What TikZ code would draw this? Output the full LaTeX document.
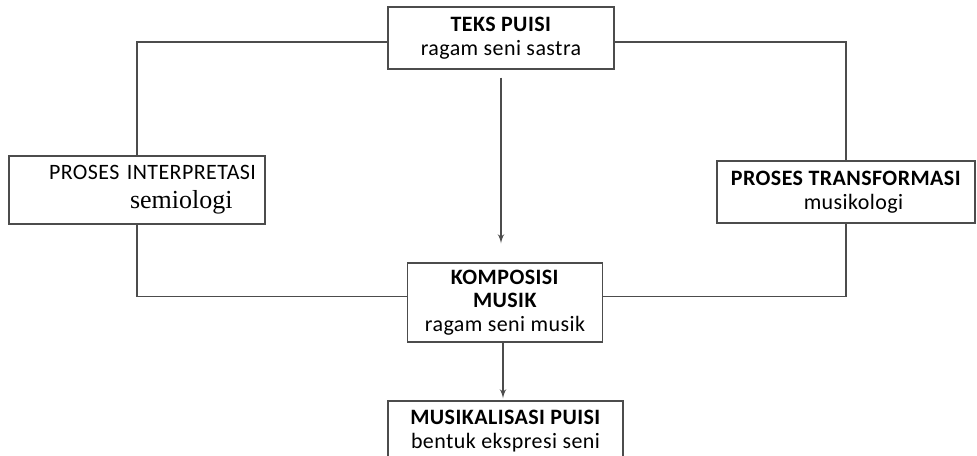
\documentclass[tikz,border=0pt]{standalone}
\usepackage{fontspec}
\setmainfont{Carlito}[LetterSpace=2]
\newfontfamily\serifface{Liberation Serif}
\usetikzlibrary{arrows, positioning}

\begin{document}
\begin{tikzpicture}[
    x=0.02cm, y=-0.02cm,
    block/.style={rectangle, draw=black!70, line width=0.8pt, align=center, inner sep=0pt, font=\fontsize{12.5}{13.5}\selectfont},
    line/.style={draw=black!70, line width=0.8pt},
    arrowline/.style={line, -latex'}
]
    \useasboundingbox (0,0) rectangle (977,456);

    % Nodes
    \node (puisi) [block, minimum width=4.52cm, minimum height=1.24cm] at (501,38) {\textbf{TEKS PUISI}\\ragam seni sastra};
    \node (interp) [block, align=left, text width=5.12cm, minimum height=1.36cm] at (137,190) {\hspace*{0.8cm}PROSES INTERPRETASI\\[3pt]\hspace*{2.42cm}{\serifface\fontsize{14.8}{14}\selectfont semiologi}};
    \node (transf) [block, minimum width=5.16cm, minimum height=1.24cm] at (846,192) {\textbf{PROSES TRANSFORMASI}\\\hspace*{0.3cm}musikologi};
    \node (kompos) [block, minimum width=3.9cm, minimum height=1.58cm] at (505,302.5) {\textbf{KOMPOSISI}\\\textbf{MUSIK}\\ragam seni musik};
    \node (musikal) [block, minimum width=4.7cm, minimum height=1.2cm] at (505.5,431) {\textbf{MUSIKALISASI PUISI}\\bentuk ekspresi seni};

    % Connections
    \draw [line] ([yshift=-0.08cm]puisi.west) -| (interp.north);
    \draw [line] ([yshift=-0.08cm]puisi.east) -| (transf.north);
    \draw [line] (interp.south) |- ([yshift=0.12cm]kompos.west);
    \draw [line] (transf.south) |- ([yshift=0.12cm]kompos.east);
    \draw [arrowline, shorten <=0.16cm, shorten >=0.38cm] (puisi.south) -- (puisi.south |- kompos.north);
    \draw [arrowline, shorten >=0.04cm] ([xshift=-0.04cm]kompos.south) -- ([xshift=-0.04cm]kompos.south |- musikal.north);
\end{tikzpicture}
\end{document}
